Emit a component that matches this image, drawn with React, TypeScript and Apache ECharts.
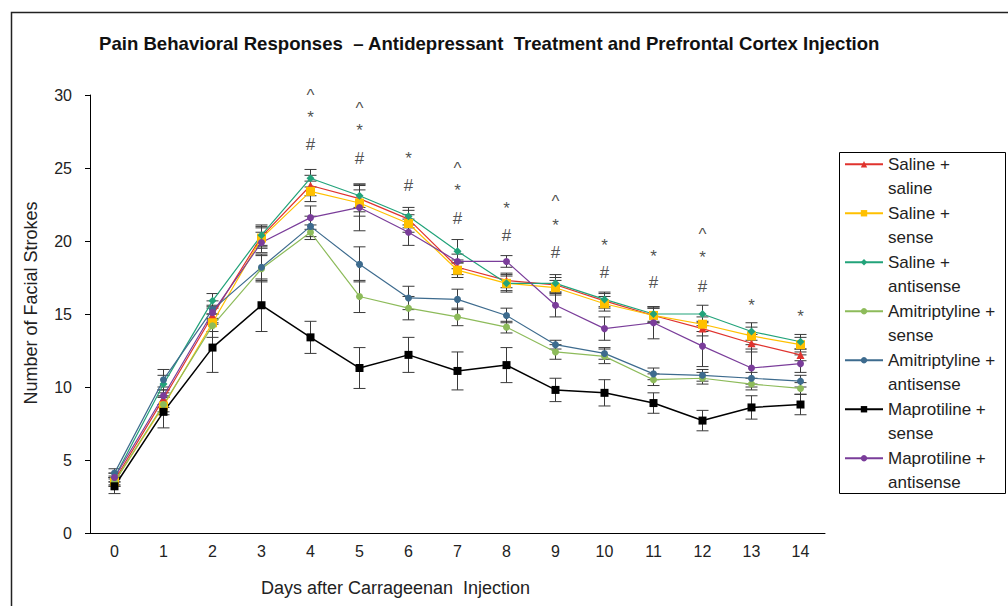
import React, { useEffect, useRef } from "react";
import * as echarts from "echarts";

const days = ["0", "1", "2", "3", "4", "5", "6", "7", "8", "9", "10", "11", "12", "13", "14"];

const seriesNames = [
  "Saline +\nsaline",
  "Saline +\nsense",
  "Saline +\nantisense",
  "Amitriptyline +\nsense",
  "Amitriptyline +\nantisense",
  "Maprotiline +\nsense",
  "Maprotiline +\nantisense",
];

const salineSaline = [3.6, 9.2, 14.9, 20.3, 23.8, 22.9, 21.5, 18.2, 17.3, 17.0, 15.9, 14.9, 14.0, 13.0, 12.2];
const salineSense = [3.5, 8.7, 14.4, 20.2, 23.4, 22.6, 21.2, 18.0, 17.1, 16.8, 15.7, 14.9, 14.3, 13.5, 12.9];
const salineAntisense = [3.8, 10.2, 15.9, 20.4, 24.3, 23.1, 21.7, 19.3, 17.1, 17.1, 16.0, 15.0, 15.0, 13.8, 13.1];
const amiSense = [3.5, 8.8, 14.2, 18.1, 20.6, 16.2, 15.4, 14.8, 14.1, 12.4, 12.1, 10.5, 10.6, 10.2, 9.9];
const amiAntisense = [4.1, 10.5, 15.3, 18.2, 21.0, 18.4, 16.1, 16.0, 14.9, 12.9, 12.3, 10.9, 10.8, 10.6, 10.4];
const mapSense = [3.2, 8.3, 12.7, 15.6, 13.4, 11.3, 12.2, 11.1, 11.5, 9.8, 9.6, 8.9, 7.7, 8.6, 8.8];
const mapAntisense = [3.8, 9.4, 15.1, 19.9, 21.6, 22.3, 20.6, 18.6, 18.6, 15.6, 14.0, 14.4, 12.8, 11.3, 11.6];

const salineSalineErr = [0.3, 0.6, 0.6, 0.7, 0.7, 0.9, 0.6, 0.5, 0.5, 0.5, 0.5, 0.5, 0.5, 0.6, 0.4];
const salineSenseErr = [0.3, 0.6, 0.6, 0.7, 0.7, 0.9, 0.6, 0.5, 0.6, 0.5, 0.5, 0.5, 0.5, 0.6, 0.5];
const salineAntisenseErr = [0.3, 0.6, 0.5, 0.7, 0.6, 0.8, 0.6, 0.8, 0.5, 0.6, 0.5, 0.5, 0.6, 0.6, 0.5];
const amiSenseErr = [0.3, 0.5, 0.8, 0.9, 0.5, 1.1, 0.8, 0.6, 0.4, 0.5, 0.5, 0.4, 0.4, 0.4, 0.4];
const amiAntisenseErr = [0.3, 0.7, 0.6, 0.9, 0.7, 1.2, 0.8, 0.7, 0.5, 0.3, 0.4, 0.4, 0.4, 0.4, 0.4];
const mapSenseErr = [0.5, 1.1, 1.7, 1.8, 1.1, 1.4, 1.2, 1.3, 1.2, 0.8, 0.9, 0.7, 0.7, 0.8, 0.7];
const mapAntisenseErr = [0.3, 0.6, 0.5, 0.7, 0.8, 1.6, 0.9, 0.5, 0.4, 0.8, 0.8, 1.1, 1.4, 1.3, 0.6];

const sigDays = [4, 4, 4, 5, 5, 5, 6, 6, 7, 7, 7, 8, 8, 9, 9, 9, 10, 10, 11, 11, 12, 12, 12, 13, 14];
const sigMarks = ["^", "*", "#", "^", "*", "#", "*", "#", "^", "*", "#", "*", "#", "^", "*", "#", "*", "#", "*", "#", "^", "*", "#", "*", "*"];
const sigValues = [30.1, 28.6, 26.6, 29.2, 27.7, 25.65, 25.8, 23.8, 25.1, 23.6, 21.55, 22.35, 20.4, 22.85, 21.2, 19.2, 19.8, 17.85, 19.1, 17.15, 20.6, 19.0, 16.9, 15.7, 15.0];

const seriesValues = [salineSaline, salineSense, salineAntisense, amiSense, amiAntisense, mapSense, mapAntisense];
const seriesErrors = [salineSalineErr, salineSenseErr, salineAntisenseErr, amiSenseErr, amiAntisenseErr, mapSenseErr, mapAntisenseErr];
const seriesColors = ["#E0332E", "#FFC000", "#22A37A", "#8DBB5A", "#3D6B8E", "#000000", "#7A3D9A"];
const seriesSymbols = ["triangle", "rect", "diamond", "circle", "circle", "rect", "circle"];
const seriesSymbolSizes = [8, 9, 8, 7, 7, 8, 7];

const FONT = "'Liberation Sans', Arial, sans-serif";

export default function App() {
  const ref = useRef<HTMLDivElement>(null);
  useEffect(() => {
    if (!ref.current) return;
    const chart = echarts.init(ref.current, undefined, { renderer: "svg" });

    const errorSeries = seriesValues.map((vals, si) => ({
      type: "custom",
      name: "err" + si,
      silent: true,
      z: 1,
      clip: false,
      data: vals.map((v, i) => [i, v - seriesErrors[si][i], v + seriesErrors[si][i]]),
      encode: { x: 0, y: [1, 2] },
      renderItem: (params: any, api: any) => {
        const x = api.value(0);
        const lo = api.coord([x, api.value(1)]);
        const hi = api.coord([x, api.value(2)]);
        const hw = 6;
        const st = { stroke: "#3a3a3a", lineWidth: 1 };
        return {
          type: "group",
          children: [
            { type: "line", shape: { x1: lo[0], y1: lo[1], x2: hi[0], y2: hi[1] }, style: st },
            { type: "line", shape: { x1: lo[0] - hw, y1: lo[1], x2: lo[0] + hw, y2: lo[1] }, style: st },
            { type: "line", shape: { x1: hi[0] - hw, y1: hi[1], x2: hi[0] + hw, y2: hi[1] }, style: st },
          ],
        };
      },
    }));

    const lineSeries = seriesValues.map((vals, si) => ({
      type: "line",
      name: seriesNames[si],
      data: vals,
      symbol: seriesSymbols[si],
      symbolSize: seriesSymbolSizes[si],
      showAllSymbol: true,
      z: 3,
      lineStyle: { color: seriesColors[si], width: si === 5 ? 1.5 : 1.2 },
      itemStyle: { color: seriesColors[si] },
    }));

    const sigSeries = {
      type: "scatter",
      name: "significance",
      silent: true,
      clip: false,
      symbol: "circle",
      symbolSize: 1,
      itemStyle: { color: "rgba(0,0,0,0)" },
      z: 5,
      data: sigDays.map((d, i) => ({
        value: [d, sigValues[i]],
        label: {
          show: true,
          position: "inside",
          formatter: sigMarks[i],
          color: "#222",
          fontSize: 17,
          fontFamily: FONT,
          offset: sigMarks[i] === "#" ? [0, 0] : [0, 2],
        },
      })),
    };

    const option: any = {
      animation: false,
      backgroundColor: "#ffffff",
      title: {
        text: "Pain Behavioral Responses  \u2013 Antidepressant  Treatment and Prefrontal Cortex Injection",
        left: 94,
        top: 29,
        textStyle: { fontFamily: FONT, fontWeight: "bold", fontSize: 18.6, color: "#111" },
      },
      grid: { left: 90, right: 183, top: 95, bottom: 73 },
      legend: {
        data: seriesNames,
        orient: "vertical",
        left: 844,
        top: 127.5,
        padding: 0,
        itemGap: -24.5,
        itemWidth: 38,
        itemHeight: 8,
        selectedMode: false,
        formatter: (name: string) => "\n" + name,
        textStyle: { fontSize: 17, fontFamily: FONT, color: "#222", lineHeight: 24.5 },
      },
      xAxis: {
        type: "category",
        data: days,
        boundaryGap: true,
        name: "Days after Carrageenan  Injection",
        nameLocation: "middle",
        nameGap: 46,
        nameTextStyle: { fontSize: 18, fontFamily: FONT, color: "#222", padding: [0, 124, 0, 0] },
        axisLine: { lineStyle: { color: "#000", width: 1 } },
        axisTick: { alignWithLabel: true, length: 5, lineStyle: { color: "#000" } },
        axisLabel: { fontSize: 16, fontFamily: FONT, color: "#222", margin: 10 },
      },
      yAxis: {
        type: "value",
        min: 0,
        max: 30,
        interval: 5,
        name: "Number of Facial Strokes",
        nameLocation: "middle",
        nameGap: 50,
        nameTextStyle: { fontSize: 18, fontFamily: FONT, color: "#222", padding: [0, 0, 0, 22] },
        axisLine: { show: true, lineStyle: { color: "#000", width: 1 } },
        axisTick: { show: true, length: 5, lineStyle: { color: "#000" } },
        axisLabel: { fontSize: 16, fontFamily: FONT, color: "#222", margin: 18 },
        splitLine: { show: false },
      },
      graphic: [
        { type: "rect", left: 9, top: 10, shape: { width: 1100, height: 700 }, style: { fill: "none", stroke: "#222", lineWidth: 1.5 }, silent: true },
        { type: "rect", shape: { x: 839.5, y: 152.5, width: 166, height: 341 }, style: { fill: "none", stroke: "#000", lineWidth: 1 }, silent: true },
      ],
      series: [...errorSeries, ...lineSeries, sigSeries],
    };
    chart.setOption(option);
    return () => chart.dispose();
  }, []);
  return <div ref={ref} style={{ position: "fixed", left: 0, top: 0, width: 1008, height: 606, background: "#fff" }} />;
}
